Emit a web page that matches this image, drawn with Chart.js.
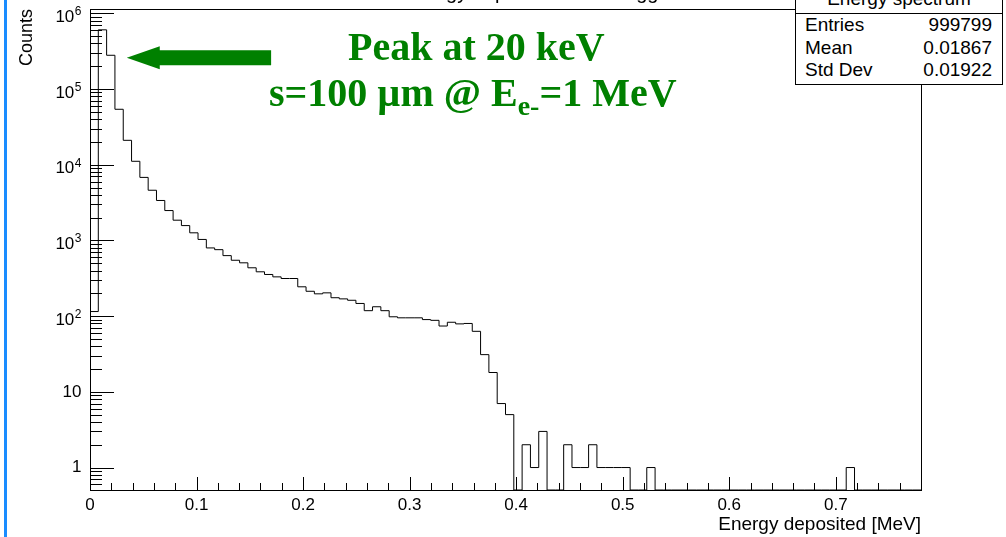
<!DOCTYPE html>
<html>
<head>
<meta charset="utf-8">
<script src="https://cdn.jsdelivr.net/npm/chart.js@4.4.1/dist/chart.umd.min.js"></script>
<style>
    html, body { margin: 0; padding: 0; background: #fff; overflow: hidden; }
    #wrap { position: relative; width: 1006px; height: 537px; overflow: hidden; font-family: "Liberation Sans", Arial, sans-serif; color: #000; }
    #barra { position: absolute; left: 4px; top: 0; width: 3px; height: 537px; background: #1a8cff; }
    canvas { position: absolute; left: 0; top: 0; }
    .nota { position: absolute; color: #008000; font-family: "Liberation Serif", serif; font-weight: bold; font-size: 40px; line-height: 40px; white-space: nowrap; }
    .nota .sub { font-size: 28px; position: relative; top: 9px; }
    #titulo { position: absolute; left: 340px; width: 400px; top: -18px; text-align: center; font-size: 20px; line-height: 20px; white-space: nowrap; }
    #stats { position: absolute; left: 795px; top: -30px; width: 206px; height: 113px; border: 1px solid #000; background: #fff; }
    #sep { position: absolute; left: 795px; top: 13px; width: 208px; height: 1px; background: #000; }
    .st { position: absolute; font-size: 19px; line-height: 19px; white-space: nowrap; }
</style>
</head>
<body>
<div id="wrap">
    <canvas id="histo" width="1006" height="537"></canvas>
    <div id="titulo">Energy deposited in the trigger</div>
    <div id="stats"></div>
    <div id="sep"></div>
    <div class="st" style="left:795px; width:208px; top:-10.6px; text-align:center;">Energy spectrum</div>
    <div class="st" style="left:805px; top:15px;">Entries</div>
    <div class="st" style="right:14px; top:15px;">999799</div>
    <div class="st" style="left:805px; top:38px;">Mean</div>
    <div class="st" style="right:14px; top:38px;">0.01867</div>
    <div class="st" style="left:805px; top:60px;">Std Dev</div>
    <div class="st" style="right:14px; top:60px;">0.01922</div>
    <div class="nota" style="left:348px; top:26.5px;">Peak at 20 keV</div>
    <div class="nota" style="left:269px; top:73.2px;">s=100 µm @ E<span class="sub">e-</span>=1 MeV</div>
    <div id="barra"></div>
</div>
<script>
// ==========================================
// DATOS DEL HISTOGRAMA (100 bins de 0 a 0.78 MeV)
// ==========================================
const anchoBin = 0.0078;
const cuentas = [
    115, 605000, 279000, 54000, 21000, 11100, 6800, 4600, 3370, 2480,
    1850, 1570, 1260, 1030, 796, 755, 630, 547, 506, 435,
    385, 355, 330, 314, 314, 244, 213, 197, 203, 175,
    169, 162, 147, 118, 133, 118, 98, 95, 95, 95,
    90, 88, 74, 83, 79, 80, 63, 31, 18, 7,
    5, 0, 2, 1, 3, 0, 0, 2, 1, 1,
    2, 1, 1, 1, 1, 0, 0, 1, 0, 0,
    0, 0, 0, 0, 0, 0, 0, 0, 0, 0,
    0, 0, 0, 0, 0, 0, 0, 0, 0, 0,
    0, 1, 0, 0, 0, 0, 0, 0, 0, 0
];
const etiquetasX = [0, 0.1, 0.2, 0.3, 0.4, 0.5, 0.6, 0.7];
const decadasY = [1, 10, 100, 1000, 10000, 100000, 1000000];
// Etiquetas del eje Y: base y exponente (estilo ROOT)
const baseY = ['1', '10', '10', '10', '10', '10', '10'];
const expY = ['', '', '2', '3', '4', '5', '6'];

// Rango de los ejes
const xMin = 0, xMax = 0.78;
const yMin = 0.505, yMax = 1.14e6;

// Flecha verde (en unidades de los datos)
const flecha = { colaX: 0.170, puntaX: 0.0345, y: 2.58e5 };

// Puntos del contorno escalonado (los bins vacíos bajan al fondo del marco)
const puntos = [{ x: 0, y: yMin }];
cuentas.forEach((c, i) => {
    puntos.push({ x: i * anchoBin, y: Math.max(c, yMin) });
});
puntos.push({ x: cuentas.length * anchoBin, y: yMin });

Chart.defaults.font.family = '"Liberation Sans", Arial, sans-serif';
Chart.defaults.color = '#000';

// Marco, marcas hacia dentro y etiquetas del eje Y, estilo ROOT
const marcoTicks = {
    id: 'marcoTicks',
    afterDatasetsDraw(chart) {
        const { ctx, chartArea: a, scales: { x, y } } = chart;
        ctx.save();
        ctx.strokeStyle = '#000';
        ctx.lineWidth = 1;
        ctx.beginPath();
        for (let e = -1; e <= 6; e++) {
            for (let k = 1; k <= 9; k++) {
                const v = k * Math.pow(10, e);
                if (v < y.min || v > y.max) continue;
                const py = Math.round(y.getPixelForValue(v)) + 0.5;
                ctx.moveTo(a.left, py);
                ctx.lineTo(a.left + (k === 1 ? 24 : 12), py);
            }
        }
        for (let i = 0; i * 0.02 <= x.max + 1e-9; i++) {
            const px = Math.round(x.getPixelForValue(i * 0.02)) + 0.5;
            ctx.moveTo(px, a.bottom);
            ctx.lineTo(px, a.bottom - (i % 5 === 0 ? 13 : 7));
        }
        ctx.stroke();
        ctx.strokeRect(Math.round(a.left) + 0.5, Math.round(a.top) + 0.5,
            Math.round(a.right - a.left), Math.round(a.bottom - a.top));

        // etiquetas: "10" normal y el exponente más pequeño y subido
        ctx.fillStyle = '#000';
        const fin = a.left - 8.5;
        decadasY.forEach((v, i) => {
            const py = y.getPixelForValue(v);
            if (expY[i] === '') {
                ctx.font = '17px "Liberation Sans", Arial, sans-serif';
                ctx.textAlign = 'right';
                ctx.textBaseline = 'middle';
                ctx.fillText(baseY[i], fin, py);
            } else {
                ctx.font = '12px "Liberation Sans", Arial, sans-serif';
                ctx.textAlign = 'right';
                ctx.textBaseline = 'alphabetic';
                const wExp = ctx.measureText(expY[i]).width;
                ctx.fillText(expY[i], fin, py + 2);
                ctx.font = '17px "Liberation Sans", Arial, sans-serif';
                ctx.textBaseline = 'middle';
                ctx.fillText(baseY[i], fin - wExp - 0.5, py + 4);
            }
        });
        ctx.restore();
    }
};

const flechaVerde = {
    id: 'flechaVerde',
    afterDraw(chart) {
        const { ctx, scales: { x, y } } = chart;
        const x0 = x.getPixelForValue(flecha.colaX);
        const x1 = x.getPixelForValue(flecha.puntaX);
        const py = y.getPixelForValue(flecha.y);
        const cabeza = 33, medioCabeza = 11.5, medioCuerpo = 7.5;
        ctx.save();
        ctx.fillStyle = '#008000';
        ctx.beginPath();
        ctx.moveTo(x1, py);
        ctx.lineTo(x1 + cabeza, py - medioCabeza);
        ctx.lineTo(x1 + cabeza, py - medioCuerpo);
        ctx.lineTo(x0, py - medioCuerpo);
        ctx.lineTo(x0, py + medioCuerpo);
        ctx.lineTo(x1 + cabeza, py + medioCuerpo);
        ctx.lineTo(x1 + cabeza, py + medioCabeza);
        ctx.closePath();
        ctx.fill();
        ctx.restore();
    }
};

new Chart(document.getElementById('histo'), {
    type: 'line',
    data: {
        datasets: [{
            data: puntos,
            stepped: 'before',
            borderColor: '#000',
            borderWidth: 1,
            pointRadius: 0,
            fill: false
        }]
    },
    options: {
        responsive: false,
        animation: false,
        devicePixelRatio: 1,
        layout: { padding: { top: 9, right: 85, left: 0, bottom: 0 } },
        plugins: { legend: { display: false }, tooltip: { enabled: false } },
        scales: {
            x: {
                type: 'linear',
                min: xMin,
                max: xMax,
                grid: { display: false, drawTicks: false },
                border: { display: false },
                afterBuildTicks: (s) => { s.ticks = etiquetasX.map(v => ({ value: v })); },
                afterFit: (s) => { s.height = 47; },
                ticks: {
                    autoSkip: false,
                    maxRotation: 0,
                    padding: 5,
                    font: { size: 17 },
                    callback: (v) => String(v)
                },
                title: {
                    display: true,
                    text: 'Energy deposited [MeV]',
                    align: 'end',
                    font: { size: 19 },
                    padding: { top: 0, bottom: 1 }
                }
            },
            y: {
                type: 'logarithmic',
                min: yMin,
                max: yMax,
                grid: { display: false, drawTicks: false },
                border: { display: false },
                afterBuildTicks: (s) => { s.ticks = decadasY.map(v => ({ value: v })); },
                afterFit: (s) => { s.width = 90; s.paddingTop = 0; s.paddingBottom = 0; },
                ticks: { display: false },
                title: {
                    display: true,
                    text: 'Counts',
                    align: 'end',
                    font: { size: 18 },
                    padding: { top: 16, bottom: 0 }
                }
            }
        }
    },
    plugins: [marcoTicks, flechaVerde]
});
</script>
</body>
</html>
